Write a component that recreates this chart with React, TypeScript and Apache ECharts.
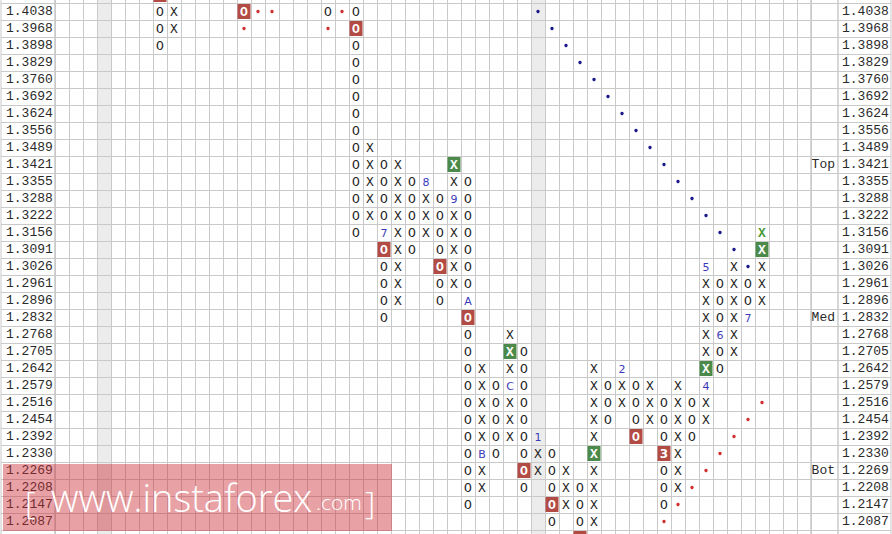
import React, { useEffect, useRef } from 'react';
import * as echarts from 'echarts';

// Box size (price levels), top to bottom
const PRICE_LEVELS = [
  '1.4038', '1.3968', '1.3898', '1.3829', '1.3760', '1.3692', '1.3624', '1.3556',
  '1.3489', '1.3421', '1.3355', '1.3288', '1.3222', '1.3156', '1.3091', '1.3026',
  '1.2961', '1.2896', '1.2832', '1.2768', '1.2705', '1.2642', '1.2579', '1.2516',
  '1.2454', '1.2392', '1.2330', '1.2269', '1.2208', '1.2147', '1.2087',
];

// Level tags in the side column
const LEVEL_TAGS: [string, string][] = [
  ['1.3421', 'Top'],
  ['1.2832', 'Med'],
  ['1.2269', 'Bot'],
];

const COLUMN_COUNT = 54;
const GRAY_COLUMNS = [3, 34];

// [column, symbol, first row, last row]  (row 0 = 1.4038, -1 = above, 31 = below)
const COLUMNS: [number, string, number, number][] = [
  [7, 'O', -1, 2], [8, 'X', 0, 1], [13, 'O', 0, 0], [19, 'O', 0, 0],
  [21, 'O', 0, 13], [22, 'X', 8, 12], [23, 'O', 9, 18], [24, 'X', 9, 17],
  [25, 'O', 10, 14], [26, 'X', 10, 13], [27, 'O', 11, 17], [28, 'X', 9, 16],
  [29, 'O', 10, 29], [30, 'X', 21, 28], [31, 'O', 22, 26], [32, 'X', 19, 25],
  [33, 'O', 20, 28], [34, 'X', 25, 27], [35, 'O', 26, 30], [36, 'X', 27, 29],
  [37, 'O', 28, 31], [38, 'X', 21, 30], [39, 'O', 22, 24], [40, 'X', 21, 23],
  [41, 'O', 22, 25], [42, 'X', 22, 24], [43, 'O', 23, 29], [44, 'X', 22, 28],
  [45, 'O', 23, 25], [46, 'X', 15, 24], [47, 'O', 16, 21], [48, 'X', 15, 20],
  [49, 'O', 16, 18], [50, 'X', 13, 17],
];

// Month markers replacing a box: [column, row, label]
const MONTH_MARKS: [number, number, string][] = [
  [23, 13, '7'], [26, 10, '8'], [28, 11, '9'], [29, 17, 'A'], [30, 26, 'B'],
  [32, 22, 'C'], [34, 25, '1'], [40, 21, '2'], [43, 26, '3'], [46, 22, '4'],
  [46, 15, '5'], [47, 19, '6'], [49, 18, '7'],
];

const RED_BOXES: [number, number][] = [
  [7, -1], [13, 0], [21, 1], [23, 14], [27, 15], [29, 18], [33, 27],
  [35, 29], [37, 31], [41, 25], [43, 26],
];
const GREEN_BOXES: [number, number][] = [[28, 9], [32, 20], [38, 26], [46, 21], [50, 14]];
const GREEN_TEXT: [number, number][] = [[50, 13]];

const BLUE_DOTS: [number, number][] = [
  [34, 0], [35, 1], [36, 2], [37, 3], [38, 4], [39, 5], [40, 6], [41, 7],
  [42, 8], [43, 9], [44, 10], [45, 11], [46, 12], [47, 13], [48, 14], [49, 15],
];
const RED_DOTS: [number, number][] = [
  [13, 1], [14, 0], [15, 0], [19, 1], [20, 0],
  [43, 30], [44, 29], [45, 28], [46, 27], [47, 26], [48, 25], [49, 24], [50, 23],
];

// ---------- layout / style ----------
const LINE = '#c9c9c9';
const ROW_H = 17;
const SHIFT = ROW_H - 3; // chart canvas starts one row (minus 3px) above the page
const ROW_COUNT = PRICE_LEVELS.length + 2;
const GRID_H = ROW_COUNT * ROW_H;
const MONO = '"Courier New", "Liberation Mono", monospace';
const SANS = '"DejaVu Sans", Verdana, sans-serif';

const ROW_KEYS = Array.from({ length: ROW_COUNT }, (_, i) => 'r' + (i - 1));
const COL_KEYS = Array.from({ length: COLUMN_COUNT }, (_, i) => 'c' + i);

type Mark = { col: number; row: number; text: string; kind: string };

const has = (list: [number, number][], c: number, r: number) => list.some(([a, b]) => a === c && b === r);

const MARKS: Mark[] = [];
COLUMNS.forEach(([col, sym, from, to]) => {
  for (let row = from; row <= to; row++) {
    const mm = MONTH_MARKS.find(([c, r]) => c === col && r === row);
    // boxes beyond the visible price range show only their edge, no glyph
    const visible = row >= 0 && row < PRICE_LEVELS.length;
    const text = visible ? (mm ? mm[2] : sym) : '';
    let kind = mm ? 'month' : 'plain';
    if (has(RED_BOXES, col, row)) kind = 'red';
    else if (has(GREEN_BOXES, col, row)) kind = 'green';
    else if (has(GREEN_TEXT, col, row)) kind = 'greenText';
    MARKS.push({ col, row, text, kind });
  }
});
BLUE_DOTS.forEach(([col, row]) => MARKS.push({ col, row, text: '', kind: 'blueDot' }));
RED_DOTS.forEach(([col, row]) => MARKS.push({ col, row, text: '', kind: 'redDot' }));

function renderMark(params: any, api: any) {
  const m = MARKS[params.dataIndex];
  const p = api.coord([api.value(0), api.value(1)]);
  const x = p[0];
  const y = p[1];
  const txt = (fill: string, bold: boolean, fam = MONO, size = 13) => ({
    type: 'text',
    x,
    y: y + 0.5,
    style: {
      text: m.text,
      fill,
      fontFamily: fam,
      fontSize: size,
      fontWeight: bold ? 'bold' : 'normal',
      align: 'center',
      verticalAlign: 'middle',
    },
  });
  switch (m.kind) {
    case 'red':
    case 'green': {
      const children: any[] = [
        {
          type: 'rect',
          shape: { x: x - 6.5, y: y - 7.5, width: 13, height: 15 },
          style: { fill: m.kind === 'red' ? '#b34b45' : '#4b8a4b' },
        },
      ];
      if (m.text) children.push(/[0-9A-C]/.test(m.text) ? txt('#ffffff', true, SANS, 12) : txt('#ffffff', true));
      return { type: 'group', children };
    }
    case 'greenText':
      return txt('#4a9a3a', true);
    case 'month':
      return txt('#3a3ab8', false, SANS, 11);
    case 'blueDot':
      return { type: 'circle', shape: { cx: x, cy: y, r: 1.7 }, style: { fill: '#1a1a8a' } };
    case 'redDot':
      return { type: 'circle', shape: { cx: x, cy: y, r: 1.7 }, style: { fill: '#d03030' } };
    default:
      return txt('#1e1e1e', false);
  }
}

function renderGray(params: any, api: any) {
  const p = api.coord([api.value(0), 0]);
  const w = api.size([1, 0])[0];
  const cs = params.coordSys;
  return {
    type: 'rect',
    shape: { x: p[0] - w / 2, y: cs.y, width: w, height: cs.height },
    style: { fill: '#ececec' },
  };
}

const labelFor = (i: number) => (i >= 1 && i <= PRICE_LEVELS.length ? PRICE_LEVELS[i - 1] : '');
const tagFor = (i: number) => {
  const t = LEVEL_TAGS.find(([p]) => PRICE_LEVELS.indexOf(p) === i - 1);
  return t ? t[1] : '';
};

const baseY = (gridIndex: number) => ({
  gridIndex,
  type: 'category',
  inverse: true,
  data: ROW_KEYS,
  axisLine: { show: false },
  axisTick: { show: false },
  splitLine: { show: true, interval: 0, lineStyle: { color: LINE, width: 1 } },
  z: 1,
});

const sideLabel = { fontFamily: MONO, fontSize: 13, color: '#2a2a2a', interval: 0 };
const WM_FONT = '"Open Sans", "Segoe UI", sans-serif';
const WM_Z = 100;

const option: any = {
  animation: false,
  backgroundColor: '#ffffff',
  grid: [
    { left: 55, top: 0, width: 756, height: GRID_H, show: true, borderColor: LINE, borderWidth: 1 },
    { left: 1, top: 0, width: 54, height: GRID_H, show: true, borderColor: LINE, borderWidth: 1 },
    { left: 811, top: 0, width: 27, height: GRID_H, show: true, borderColor: LINE, borderWidth: 1 },
    { left: 838, top: 0, width: 53, height: GRID_H, show: true, borderColor: LINE, borderWidth: 1 },
  ],
  xAxis: [
    {
      gridIndex: 0,
      type: 'category',
      data: COL_KEYS,
      axisLine: { show: false },
      axisTick: { show: false },
      axisLabel: { show: false },
      splitLine: { show: true, interval: 0, lineStyle: { color: LINE, width: 1 } },
      z: 1,
    },
    { gridIndex: 1, type: 'value', min: 0, max: 1, show: false },
    { gridIndex: 2, type: 'value', min: 0, max: 1, show: false },
    { gridIndex: 3, type: 'value', min: 0, max: 1, show: false },
  ],
  yAxis: [
    { ...baseY(0), axisLabel: { show: false } },
    {
      ...baseY(1),
      position: 'left',
      axisLabel: { ...sideLabel, inside: true, margin: 5, formatter: (_v: string, i: number) => labelFor(i) },
    },
    {
      ...baseY(2),
      position: 'right',
      axisLabel: { ...sideLabel, inside: true, margin: 3, formatter: (_v: string, i: number) => tagFor(i) },
    },
    {
      ...baseY(3),
      position: 'left',
      axisLabel: { ...sideLabel, inside: true, margin: 4, formatter: (_v: string, i: number) => labelFor(i) },
    },
  ],
  series: [
    {
      type: 'custom',
      xAxisIndex: 0,
      yAxisIndex: 0,
      z: 0,
      silent: true,
      renderItem: renderGray,
      data: GRAY_COLUMNS.map((c) => [c, 0]),
    },
    {
      type: 'custom',
      xAxisIndex: 0,
      yAxisIndex: 0,
      z: 3,
      silent: true,
      renderItem: renderMark,
      data: MARKS.map((m) => [m.col, m.row + 1]),
    },
  ],
  graphic: [
    {
      type: 'rect',
      z: WM_Z,
      shape: { x: 3, y: 464 + SHIFT, width: 389, height: 67 },
      style: { fill: 'rgba(204,49,58,0.45)' },
    },
    {
      type: 'text',
      z: WM_Z + 1,
      x: 25,
      y: 501 + SHIFT,
      style: { text: '[', fill: '#ffffff', fontFamily: WM_FONT, fontWeight: 300, fontSize: 32, verticalAlign: 'middle' },
    },
    {
      type: 'text',
      z: WM_Z + 1,
      x: 51,
      y: 497 + SHIFT,
      style: { text: 'www.instaforex', fill: '#ffffff', fontFamily: WM_FONT, fontWeight: 300, fontSize: 38, verticalAlign: 'middle' },
    },
    {
      type: 'text',
      z: WM_Z + 1,
      x: 316,
      y: 502 + SHIFT,
      style: { text: '.com', fill: '#ffffff', fontFamily: WM_FONT, fontWeight: 300, fontSize: 21, verticalAlign: 'middle' },
    },
    {
      type: 'text',
      z: WM_Z + 1,
      x: 365,
      y: 501 + SHIFT,
      style: { text: ']', fill: '#ffffff', fontFamily: WM_FONT, fontWeight: 300, fontSize: 32, verticalAlign: 'middle' },
    },
  ],
};

export default function App() {
  const ref = useRef<HTMLDivElement>(null);
  useEffect(() => {
    document.body.style.margin = '0';
    const chart = echarts.init(ref.current as HTMLDivElement, null, { renderer: 'svg' });
    chart.setOption(option);
    return () => chart.dispose();
  }, []);
  return (
    <div style={{ position: 'fixed', left: 0, top: 0, width: 892, height: 534, overflow: 'hidden', background: '#fff' }}>
      <div ref={ref} style={{ position: 'absolute', left: 0, top: -SHIFT, width: 892, height: GRID_H }} />
    </div>
  );
}
